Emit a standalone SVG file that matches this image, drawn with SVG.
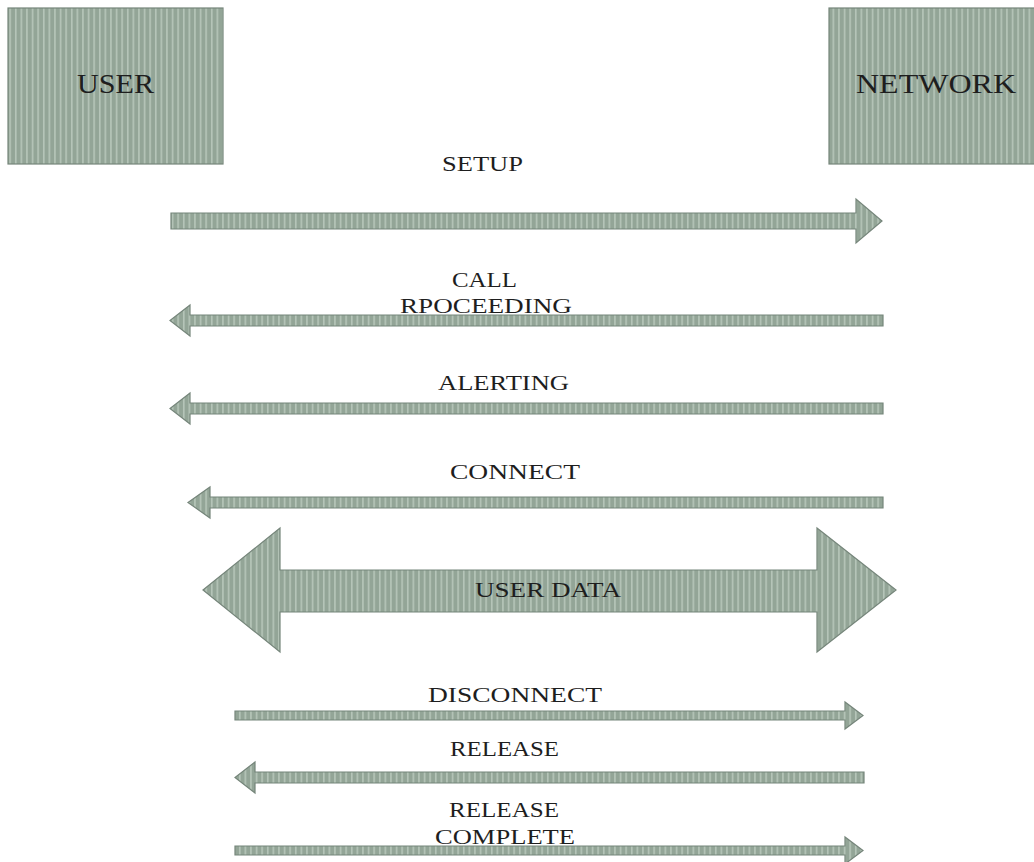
<svg xmlns="http://www.w3.org/2000/svg" width="1034" height="862" viewBox="0 0 1034 862">
<style>
.lbl{font-family:"Liberation Serif","Times New Roman",serif;font-size:21px;fill:#1e1e1e}
.big{font-family:"Liberation Serif","Times New Roman",serif;font-size:27px;fill:#1e1e1e}
.shape{fill:url(#stripes);stroke:#75857a;stroke-width:1.2}
</style>
<defs>
<pattern id="stripes" patternUnits="userSpaceOnUse" width="5.6" height="10">
<rect width="5.6" height="10" fill="#93a597"/>
<rect x="3.8" width="1.5" height="10" fill="#b9c8bc"/>
</pattern>
</defs>
<rect width="1034" height="862" fill="#ffffff"/>
<g id="user">
<rect class="shape" x="8" y="8" width="215" height="156"/>
<text class="big" x="77" y="93" textLength="77" lengthAdjust="spacingAndGlyphs">USER</text>
</g>
<g id="network">
<rect class="shape" x="829" y="8" width="210" height="156"/>
<text class="big" x="856" y="93" textLength="160" lengthAdjust="spacingAndGlyphs">NETWORK</text>
</g>
<g id="connectors">
<g id="setup">
<polygon class="shape" points="171,213 856,213 856,199 882,221 856,243 856,229 171,229"/>
<text class="lbl" x="442" y="171" textLength="81" lengthAdjust="spacingAndGlyphs">SETUP</text>
</g>
<g id="call-proceeding">
<polygon class="shape" points="883,315 190,315 190,305 170,320.5 190,336 190,326 883,326"/>
<text class="lbl" x="452" y="287" textLength="65" lengthAdjust="spacingAndGlyphs">CALL</text>
<text class="lbl" x="400" y="313" textLength="172" lengthAdjust="spacingAndGlyphs">RPOCEEDING</text>
</g>
<g id="alerting">
<polygon class="shape" points="883,403 190,403 190,393 170,408.5 190,424 190,414 883,414"/>
<text class="lbl" x="438" y="390" textLength="131" lengthAdjust="spacingAndGlyphs">ALERTING</text>
</g>
<g id="connect">
<polygon class="shape" points="883,497 210,497 210,487 188,502.5 210,518 210,508 883,508"/>
<text class="lbl" x="450" y="479" textLength="130" lengthAdjust="spacingAndGlyphs">CONNECT</text>
</g>
<g id="user-data">
<polygon class="shape" points="203,590 280,528 280,570 817,570 817,528 896,590 817,652 817,612 280,612 280,652"/>
<text class="lbl" x="475" y="597" textLength="146" lengthAdjust="spacingAndGlyphs">USER DATA</text>
</g>
<g id="disconnect">
<polygon class="shape" points="235,711 845,711 845,702 863,715.5 845,729 845,720 235,720"/>
<text class="lbl" x="428" y="702" textLength="174" lengthAdjust="spacingAndGlyphs">DISCONNECT</text>
</g>
<g id="release">
<polygon class="shape" points="864,772 255,772 255,762 235,777.5 255,793 255,783 864,783"/>
<text class="lbl" x="450" y="756" textLength="109" lengthAdjust="spacingAndGlyphs">RELEASE</text>
</g>
<g id="release-complete">
<polygon class="shape" points="235,846 845,846 845,837 863,850.5 845,864 845,855 235,855"/>
<text class="lbl" x="449" y="817" textLength="110" lengthAdjust="spacingAndGlyphs">RELEASE</text>
<text class="lbl" x="435" y="844" textLength="140" lengthAdjust="spacingAndGlyphs">COMPLETE</text>
</g>
</g>
</svg>
